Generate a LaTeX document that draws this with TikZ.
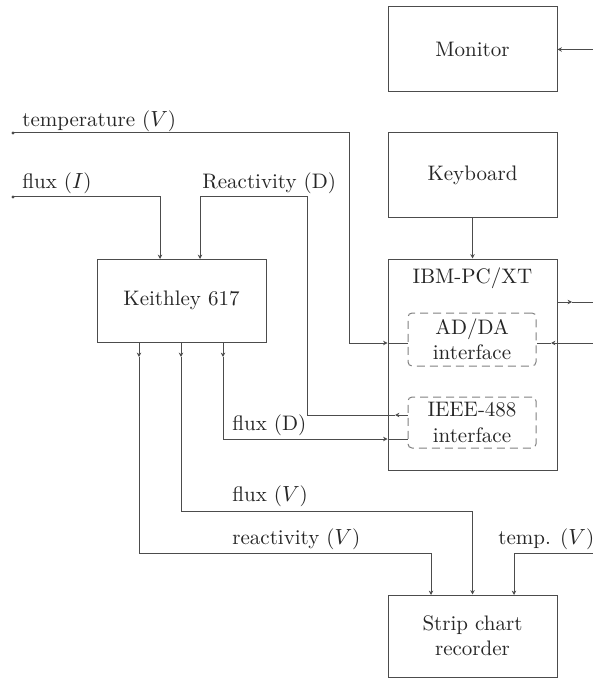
\documentclass[tikz,border=0pt]{standalone}
\usetikzlibrary{arrows.meta}
\begin{document}
\begin{tikzpicture}[x=0.5pt,y=-0.5pt,
  font=\fontsize{10.5}{12.6}\selectfont,
  box/.style={draw=black!70,line width=0.5pt,inner sep=0pt,minimum width=84.5pt,align=center,text=black!85},
  dbox/.style={draw=black!50,dash pattern=on 4pt off 2.5pt,rounded corners=2pt,line width=0.5pt,minimum width=64pt,inner sep=0pt,align=center,text=black!85},
  wire/.style={draw=black!70,line width=0.5pt},
  tip/.style={wire,-{Stealth[length=2.2pt,width=2.2pt]}},
  lab/.style={anchor=west,inner sep=0pt,text=black!85}]
\useasboundingbox (0,0) rectangle (593,679);

% boxes
\node[box,minimum height=42.5pt] (mon) at (472.5,49.5) {Monitor};
\node[box,minimum height=42.5pt] (kbd) at (472.5,175.5) {Keyboard};
\node[box,minimum height=105.5pt] (ibm) at (472.5,364.5) {};
\node[inner sep=0pt,text=black!85] (ibmt) at (472.5,278) {IBM-PC/XT};
\node[dbox,minimum height=26.5pt] (adda) at (472,339.5) {AD/DA\\interface};
\node[dbox,minimum height=25.5pt] (ieee) at (472,422.5) {IEEE-488\\interface};
\node[box,minimum height=41.5pt] (kei) at (181.5,300.5) {Keithley 617};
\node[box,minimum height=41pt] (strip) at (472.5,636) {Strip chart\\recorder};

% coordinates
\coordinate (monin) at (593,49.5);
\coordinate (ibmout) at (593,302);
\coordinate (o1) at (572,302);
\coordinate (adin) at (593,343);
\coordinate (a1) at (551,343);
\coordinate (ts) at (13,133);
\coordinate (tc) at (349,343);
\coordinate (fs) at (13,197);
\coordinate (k1) at (160,259);
\coordinate (r1) at (395,415);
\coordinate (r2) at (307,197);
\coordinate (k2) at (200,259);
\coordinate (k3) at (223,342);
\coordinate (k3a) at (223,357);
\coordinate (fd) at (223,439);
\coordinate (k4) at (139,342);
\coordinate (k4a) at (139,357);
\coordinate (rvc) at (431,553);
\coordinate (s1) at (431,595);
\coordinate (k5) at (181,342);
\coordinate (k5a) at (181,357);
\coordinate (fvc) at (472.5,511);
\coordinate (tin) at (593,553);
\coordinate (s3) at (514,595);

% connectors
\draw[tip] (monin) -- (mon.east);
\draw[tip] (kbd.south) -- (ibm.north);
\draw[tip] (ibm.east |- o1) -- (o1);
\draw[wire] (o1) -- (ibmout);
\draw[tip] (adin) -- (a1);
\draw[wire] (a1) -- (adda.east |- a1);

\fill[black!70] (ts) circle (0.8pt);
\draw[tip] (ts) -| (tc) -- (ibm.west |- tc);
\draw[wire] (ibm.west |- tc) -- (adda.west |- tc);

\fill[black!70] (fs) circle (0.8pt);
\draw[tip] (fs) -| (k1);

\draw[tip] (ieee.west |- r1) -- (r1);
\draw[tip] (r1) -| (r2) -| (k2);

\draw[tip] (k3) -- (k3a);
\draw[tip] (k3a) |- (ibm.west |- fd);
\draw[wire] (ibm.west |- fd) -- (ieee.west |- fd);

\draw[tip] (k4) -- (k4a);
\draw[tip] (k4a) |- (rvc) -- (s1);

\draw[tip] (k5) -- (k5a);
\draw[tip] (k5a) |- (fvc) -- (strip.north);

\draw[tip] (tin) -| (s3);

% labels
\node[lab] (l1) at (22,121) {temperature ($V$)};
\node[lab] (l2) at (22,183) {flux ($I$)};
\node[lab] (l3) at (202,183) {Reactivity (D)};
\node[lab] (l4) at (232,425) {flux (D)};
\node[lab] (l5) at (232,496) {flux ($V$)};
\node[lab] (l6) at (232,539) {reactivity ($V$)};
\node[lab] (l7) at (498,539) {temp. ($V$)};
\end{tikzpicture}
\end{document}
